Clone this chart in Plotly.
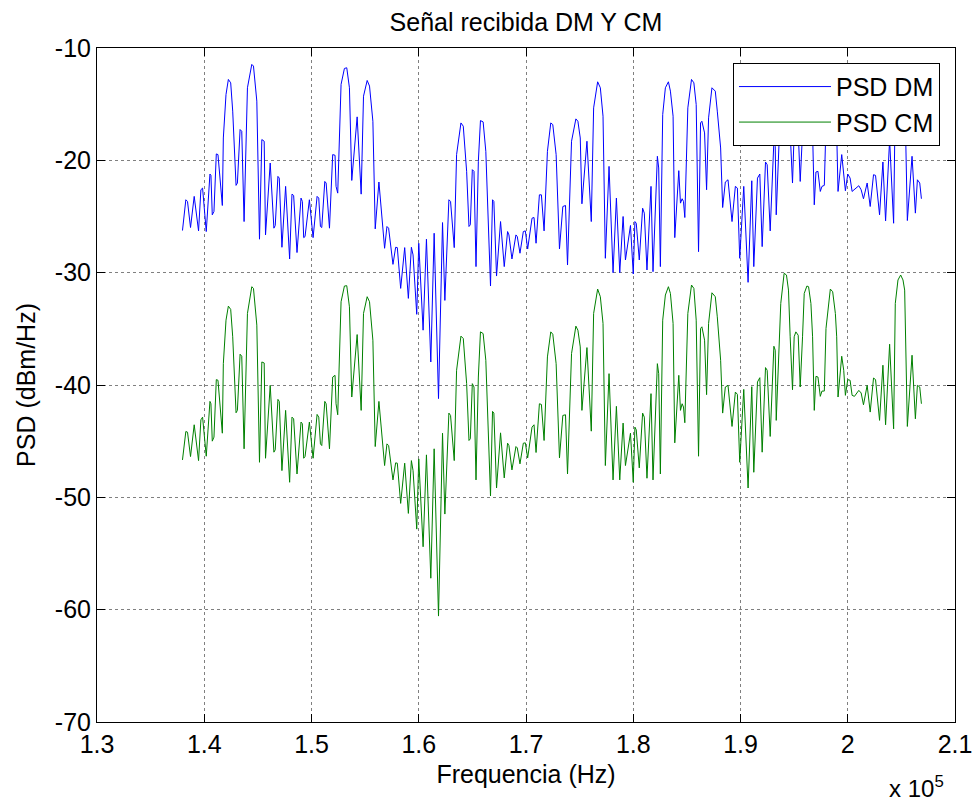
import plotly.graph_objects as go

# Frequency samples (Hz) shared by both series
freq_hz = [
    137970, 138283, 138439, 138720, 139063, 139469, 139688, 139844, 140187, 140531,
    140624, 140749, 140905, 141124, 141280, 141686, 141780, 142029, 142248, 142466,
    142654, 142966, 143091, 143341, 143497, 143715, 144027, 144433, 144589, 144902,
    145151, 145370, 145588, 145713, 146150, 146494, 146619, 146868, 146993, 147243,
    147586, 147961, 148180, 148336, 148648, 149023, 149147, 149272, 149397, 149803,
    150147, 150521, 150677, 150833, 150958, 151239, 151364, 151676,
    151976, 152195, 152289, 152445, 152757, 153069, 153288, 153537, 153756, 154256,
    154630, 154849, 155192, 155411, 155723, 155941, 156285, 156816, 157034, 157190,
    157596, 157846, 158002, 158314, 158689, 159032, 159313, 159469, 159813, 160000,
    160406, 160718, 161124, 161436, 161842, 162217, 162435, 162810, 162966, 163309,
    163528, 163934, 164152, 164464, 164683, 164808, 164995, 165151, 165339, 165557,
    165754, 166004, 166254, 166691, 166878, 167003, 167253, 167627, 167971, 168283,
    168408, 168689, 169063, 169188, 169438, 169750, 169938, 170156, 170562, 170749,
    170937, 171249, 171436, 171686, 171998, 172310, 172498, 172810, 173122, 173434,
    173684, 173871, 174246, 174652, 174839, 175058, 175214, 175682, 176088, 176306,
    176681, 176931, 177181, 177399, 177743, 178117, 178429, 178742, 179054, 179272,
    179741,
    180000, 180156, 180281, 180562, 180874, 181030, 181280, 181655, 181842, 182248,
    182373, 182529, 182747, 182997, 183278, 183465, 183715, 183871, 184246, 184402,
    184558, 184683, 184808, 185089, 185432, 185651, 185869, 186088, 186275, 186400,
    186650, 186837, 187025, 187337, 187649, 187836, 188148, 188336, 188586, 188835,
    189210, 189522, 189709, 189928, 190303, 190708, 191052, 191239, 191583, 191801,
    192020, 192332, 192488, 192769, 193112, 193237, 193331,
    193756, 194068, 194287, 194474, 194630, 194849, 195005, 195161, 195379, 195567,
    195785, 195941, 196191, 196347, 196566, 196722, 196878, 197034, 197221, 197440,
    197596, 197815, 197971, 198189, 198377, 198595, 198845, 198970, 199095, 199438,
    199625, 199781, 200000, 200219, 200406, 200624, 201030, 201249, 201467, 201811,
    202092, 202404, 202591, 202966, 203278, 203528, 203903, 204277, 204433, 204683,
    204933, 205151, 205307, 205557, 205994, 206306, 206494, 206712, 206868,
]

# PSD of the differential-mode signal (dBm/Hz)
psd_dm = [
    -26.25, -23.51, -23.66, -25.98, -23.21, -26.28, -22.62, -22.47, -26.34, -21.22,
    -21.34, -24.85, -24.55, -19.43, -19.49, -24.02, -18.01, -14.14, -12.80, -13.10,
    -15.62, -22.23, -22.02, -17.26, -17.41, -25.45, -13.54, -11.46, -11.61, -14.73,
    -27.02, -18.15, -18.30, -26.64, -20.24, -26.04, -25.80, -21.43, -21.58, -27.74,
    -22.32, -28.78, -23.01, -23.13, -28.21, -23.36, -23.66, -26.88, -26.79, -23.51,
    -26.88, -23.21, -23.36, -25.89, -25.98, -21.88, -22.02, -26.04,
    -19.49, -19.55, -22.32, -22.92, -13.24, -11.82, -11.76, -13.54, -21.79, -16.13,
    -23.01, -14.29, -12.89, -13.39, -16.52, -26.10, -21.93, -27.83, -25.89, -26.04,
    -29.26, -27.74, -27.77, -31.40, -27.77, -32.29, -27.74, -28.42, -33.71, -27.38,
    -35.12, -27.02, -37.95, -26.49, -41.21, -25.54, -32.47, -23.51, -23.66, -27.77,
    -19.49, -16.67, -16.96, -20.98, -25.89, -25.74, -20.83, -20.98, -29.46, -20.09,
    -16.46, -16.58, -19.20, -31.19, -23.51, -23.66, -30.30, -25.45, -29.46, -26.34,
    -26.64, -28.78, -26.64, -26.79, -28.27, -26.34, -26.28, -27.89, -25.15, -25.09,
    -27.38, -23.07, -23.07, -26.28, -19.20, -16.67, -16.82, -19.49, -27.89, -24.11,
    -24.02, -29.32, -18.30, -16.31, -16.52, -18.01, -23.87, -18.30, -25.45, -15.33,
    -13.01, -13.54, -16.07, -28.72, -20.54, -30.00, -23.36, -30.00, -25.00, -28.87,
    -25.80,
    -30.12, -25.45, -25.60, -28.87, -24.26, -24.70, -29.76, -22.32, -29.91, -19.64,
    -20.68, -29.46, -15.92, -13.54, -13.01, -13.84, -16.07, -26.88, -20.92, -23.81,
    -23.42, -23.66, -25.09, -15.33, -12.80, -13.10, -15.03, -28.13, -16.67, -16.52,
    -17.56, -22.62, -16.22, -13.54, -13.84, -15.62, -18.90, -24.20, -21.93, -21.73,
    -25.45, -22.32, -22.47, -28.72, -22.32, -30.86, -21.82, -29.46, -21.58, -21.22,
    -27.68, -20.15, -20.39, -26.28, -18.30, -18.75, -24.85,
    -14.54, -11.86, -12.01, -13.35, -17.51, -22.02, -17.51, -17.07, -17.37, -21.88,
    -17.51, -13.65, -12.99, -13.05, -14.54, -17.51, -23.96, -21.04, -20.98, -22.77,
    -22.32, -22.23, -16.77, -14.54, -13.26, -13.50, -15.43, -17.51, -22.77, -19.49,
    -21.58, -22.71, -21.22, -21.58, -22.77, -22.62, -22.26, -22.62, -23.42, -22.02,
    -24.11, -21.28, -21.34, -24.85, -20.15, -25.39, -18.17, -25.60, -14.54, -12.45,
    -12.01, -12.45, -13.35, -25.36, -19.64, -24.70, -21.73, -22.02, -23.42,
]

# PSD of the common-mode signal (dBm/Hz)
psd_cm = [
    -46.67, -44.14, -44.20, -46.37, -43.54, -46.73, -43.10, -42.86, -46.34, -41.46,
    -41.67, -45.00, -44.64, -39.52, -39.58, -44.29, -38.10, -34.23, -32.98, -33.27,
    -35.71, -42.47, -42.26, -37.26, -37.44, -45.68, -33.63, -31.25, -31.40, -34.67,
    -46.88, -37.95, -38.04, -46.52, -40.03, -45.98, -45.77, -41.28, -41.46, -47.62,
    -42.26, -48.66, -42.86, -43.01, -47.92, -43.30, -43.45, -46.52, -46.37, -43.30,
    -46.52, -42.62, -42.86, -45.24, -45.39, -41.46, -41.67, -45.68,
    -39.29, -39.14, -41.67, -42.65, -32.59, -31.19, -31.16, -33.04, -41.07, -35.51,
    -42.26, -33.63, -32.14, -32.59, -36.01, -45.48, -41.46, -47.17, -45.24, -45.39,
    -48.45, -46.93, -46.96, -50.54, -46.96, -51.43, -46.73, -47.62, -52.83, -46.58,
    -54.40, -46.22, -57.20, -45.68, -60.57, -44.29, -51.49, -42.50, -42.71, -46.73,
    -38.69, -35.65, -35.86, -39.88, -44.94, -44.79, -39.88, -40.18, -48.45, -39.29,
    -35.27, -35.42, -37.80, -49.88, -42.35, -42.50, -49.17, -44.26, -48.27, -45.18,
    -45.39, -47.56, -45.48, -45.60, -47.02, -45.18, -45.15, -46.49, -43.75, -43.54,
    -46.01, -41.67, -41.73, -44.94, -37.50, -35.27, -35.48, -38.10, -46.49, -42.71,
    -42.65, -47.92, -37.20, -34.76, -35.12, -36.61, -42.26, -36.67, -44.11, -33.63,
    -31.46, -32.14, -34.52, -47.17, -38.99, -48.45, -41.90, -48.45, -43.39, -47.17,
    -44.29,
    -48.66, -43.75, -43.99, -47.38, -42.50, -42.86, -48.30, -40.77, -48.45, -38.10,
    -38.99, -47.92, -34.23, -31.99, -31.25, -31.85, -34.52, -45.15, -39.14, -42.26,
    -41.67, -41.96, -43.36, -33.63, -31.10, -31.40, -34.23, -46.34, -34.97, -34.82,
    -36.01, -40.86, -34.52, -31.79, -32.14, -33.93, -37.80, -42.50, -40.18, -40.03,
    -43.69, -40.63, -40.83, -46.88, -40.39, -49.17, -40.15, -47.77, -39.73, -39.35,
    -45.98, -38.45, -38.69, -44.58, -36.55, -36.90, -43.15,
    -32.74, -30.06, -30.21, -31.55, -35.71, -40.42, -35.71, -35.27, -35.57, -40.18,
    -35.71, -31.85, -31.19, -31.25, -32.74, -35.71, -42.26, -39.23, -39.29, -41.01,
    -40.54, -40.54, -34.97, -32.74, -31.46, -31.70, -33.63, -35.71, -41.07, -37.44,
    -38.69, -40.92, -39.52, -39.58, -40.92, -41.01, -40.48, -40.71, -41.76, -40.03,
    -42.41, -39.38, -39.52, -43.15, -38.24, -43.54, -36.37, -43.90, -32.74, -30.65,
    -30.21, -30.65, -31.55, -43.69, -37.35, -43.01, -40.03, -40.18, -41.67,
]

x_tick_vals = [130000, 140000, 150000, 160000, 170000, 180000, 190000, 200000, 210000]
x_tick_text = ["1.3", "1.4", "1.5", "1.6", "1.7", "1.8", "1.9", "2", "2.1"]
y_tick_vals = [-70, -60, -50, -40, -30, -20, -10]
y_tick_text = ["-70", "-60", "-50", "-40", "-30", "-20", "-10"]

FONT = "Liberation Sans, Arial, Helvetica, sans-serif"
FS = 25

fig = go.Figure()
fig.add_trace(go.Scatter(x=freq_hz, y=psd_dm, mode="lines", name="PSD DM",
                         line=dict(color="#0000ff", width=1)))
fig.add_trace(go.Scatter(x=freq_hz, y=psd_cm, mode="lines", name="PSD CM",
                         line=dict(color="#008000", width=1)))

axis_common = dict(
    showgrid=True, gridcolor="#808080", griddash="dot", gridwidth=1,
    showline=True, linecolor="black", linewidth=1, mirror="ticks",
    ticks="inside", ticklen=8, tickcolor="black", zeroline=False,
    automargin=False,
    tickfont=dict(family=FONT, size=FS, color="black"),
)

fig.update_xaxes(range=[130000, 210000], tickvals=x_tick_vals, ticktext=x_tick_text,
                 title=dict(text="Frequencia (Hz)", standoff=8,
                            font=dict(family=FONT, size=FS, color="black")),
                 **axis_common)
fig.update_yaxes(range=[-70, -10], tickvals=y_tick_vals, ticktext=y_tick_text,
                 title=dict(text="PSD (dBm/Hz)", standoff=12,
                            font=dict(family=FONT, size=FS, color="black")),
                 **axis_common)

fig.update_layout(
    width=973, height=805,
    margin=dict(l=97, r=18, t=48, b=83),
    paper_bgcolor="white", plot_bgcolor="white",
    font=dict(family=FONT, size=FS, color="black"),
    title=dict(text="Señal recibida DM Y CM", x=0.5, xref="paper", xanchor="center",
               y=1 - 22 / 805, yref="container", yanchor="middle",
               font=dict(family=FONT, size=FS, color="black")),
    showlegend=True,
    legend=dict(x=0.9825, y=0.978, xanchor="right", yanchor="top",
                bgcolor="white", bordercolor="black", borderwidth=1,
                itemwidth=92, tracegroupgap=4,
                font=dict(family=FONT, size=FS, color="black")),
    annotations=[dict(text="x 10<sup>5</sup>", xref="paper", yref="paper",
                      x=0.955, y=-0.121, xanchor="center", yanchor="bottom",
                      showarrow=False, font=dict(family=FONT, size=24, color="black"))],
)

# remove the default page margin so the 973x805 figure fills the window exactly
fig.write_html("out.html",
               config={"displayModeBar": False},
               post_script="document.body.style.margin='0';document.body.style.overflow='hidden';")
